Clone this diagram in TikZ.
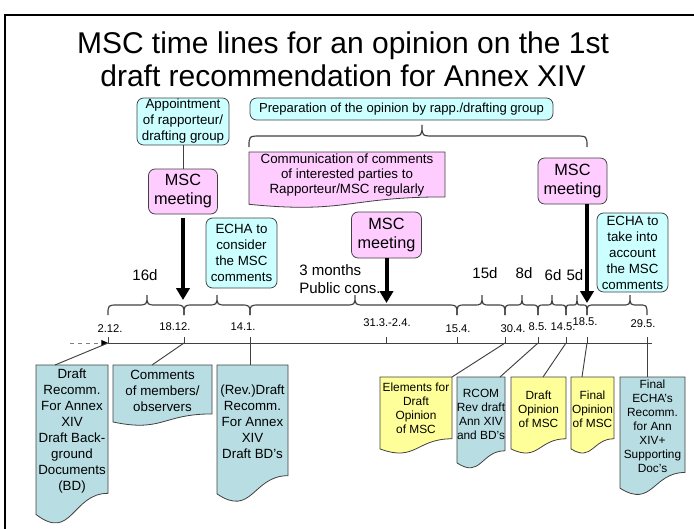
\documentclass[tikz,border=0pt]{standalone}
\usepackage{fontspec}
\setmainfont{Liberation Sans}
\usetikzlibrary{arrows.meta}
\definecolor{callcyan}{RGB}{204,255,255}
\definecolor{callpink}{RGB}{255,204,255}
\definecolor{docyellow}{RGB}{255,255,153}
\definecolor{docblue}{RGB}{184,222,228}
\definecolor{edgegrey}{RGB}{64,64,64}
\tikzset{
  callout/.style={draw=edgegrey, rounded corners=5pt, align=center, inner sep=0pt,
    line width=0.6pt, font=\fontsize{10}{12}\selectfont},
  cyanbox/.style={callout, fill=callcyan},
  mscbox/.style={callout, fill=callpink, font=\fontsize{12.2}{14.25}\selectfont},
  docstyle/.style={draw=edgegrey, line width=0.6pt},
  doctext/.style={align=center, inner sep=0pt, font=\fontsize{10}{12}\selectfont},
  smalldoc/.style={doctext, font=\fontsize{8.9}{10.5}\selectfont},
  link/.style={draw=edgegrey, line width=0.7pt},
  bigarrow/.style={line width=3pt, -{Triangle[length=9pt,width=10pt]}},
  bracestyle/.style={draw=edgegrey, line width=0.9pt},
  datelbl/.style={font=\fontsize{8.4}{10}\selectfont, inner sep=0pt},
  daylbl/.style={font=\fontsize{11.3}{13.5}\selectfont, inner sep=0pt, align=left},
  titlelbl/.style={font=\fontsize{22.5}{26}\selectfont, inner sep=0pt, anchor=base},
}
% document shape: x, y(top), width, height, fill
\newcommand\docshape[5]{%
  \draw[docstyle, fill=#5] (#1,#2) -- ({#1+#3},#2) -- ({#1+#3},{#2+0.802*#4})
    .. controls ({#1+0.5*#3},{#2+0.802*#4}) and ({#1+0.5*#3},{#2+1.107*#4}) ..
    (#1,{#2+0.934*#4}) -- cycle;}
% horizontal brace: x1, x2, xpeak, ybase, half height, radius
\newcommand\tlbrace[6]{%
  \draw[bracestyle] (#1,#4) .. controls (#1,{#4-#5}) .. ({#1+#6},{#4-#5})
    -- ({#3-#6},{#4-#5}) .. controls (#3,{#4-#5}) .. (#3,{#4-2*#5})
    .. controls (#3,{#4-#5}) .. ({#3+#6},{#4-#5})
    -- ({#2-#6},{#4-#5}) .. controls (#2,{#4-#5}) .. (#2,#4);}
\begin{document}
\begin{tikzpicture}[x=0.75pt, y=-0.75pt]
\useasboundingbox (0,0) rectangle (694,529);
% frame
\draw[line width=1.5pt] (5,529) -- (5,15) -- (694,15);
% title
\node[titlelbl] (title1) at (343,53) {MSC time lines for an opinion on the 1st};
\node[titlelbl] (title2) at (343,86.5) {draft recommendation for Annex XIV};

% upper callouts
\node[cyanbox, minimum width=69pt, minimum height=35.25pt] (appt) at (183,121.5)
  {Appointment\\of rapporteur/\\drafting group};
\node[cyanbox, minimum width=227.25pt, minimum height=16.5pt,
  font=\fontsize{9.8}{12}\selectfont] (prep) at (401.5,109)
  {Preparation of the opinion by rapp./drafting group};
\tlbrace{249}{587}{422}{147}{11}{12}
\docshape{249}{152}{196}{56}{callpink}
\node[doctext, font=\fontsize{10}{11.25}\selectfont] (comm) at (347,175)
  {Communication of comments\\of interested parties to\\Rapporteur/MSC regularly};

\node[mscbox, minimum width=51.75pt, minimum height=33.75pt] (mscL) at (183,191.5) {MSC\\meeting};
\node[mscbox, minimum width=52.5pt, minimum height=34.5pt] (mscM) at (386.5,235) {MSC\\meeting};
\node[mscbox, minimum width=51.75pt, minimum height=34.5pt] (mscR) at (572.5,181) {MSC\\meeting};
\node[cyanbox, minimum width=53.25pt, minimum height=52.5pt] (echaA) at (241.5,253)
  {ECHA to\\consider\\the MSC\\comments};
\node[cyanbox, minimum width=53.25pt, minimum height=59.25pt] (echaB) at (632.5,252.5)
  {ECHA to\\take into\\account\\the MSC\\comments};
\draw[link] (appt) -- (mscL);

% day labels
\node[daylbl] (d16) at (145,275) {16d};
\node[daylbl, anchor=west] (d3m) at (299,279) {3 months\\Public cons.};
\node[daylbl] (d15) at (485,273) {15d};
\node[daylbl] (d8) at (524,273) {8d};
\node[daylbl] (d6) at (553,275) {6d};
\node[daylbl] (d5) at (575,275) {5d};

% braces
\tlbrace{108}{184}{147}{315}{10}{10}
\tlbrace{184}{250}{217}{315}{10}{10}
\tlbrace{250}{457}{355}{315}{10}{10}
\tlbrace{457}{505}{482}{315}{10}{9}
\tlbrace{505}{538}{522}{315}{10}{7}
\tlbrace{538}{566}{552}{315}{10}{6}
\tlbrace{566}{587}{577}{315}{10}{4.5}
\tlbrace{587}{647}{630}{315}{10}{8}

% time line
\coordinate (t1) at (108,343);
\coordinate (t2) at (184,343);
\coordinate (t3) at (250,343);
\coordinate (t4) at (386,343);
\coordinate (t5) at (457,343);
\coordinate (t6) at (505,343);
\coordinate (t7) at (538,343);
\coordinate (t8) at (566,343);
\coordinate (t9) at (587,343);
\coordinate (t10) at (647,343);
\coordinate (tend) at (652,343);
\coordinate (dstart) at (70,343);
\draw[link] (t1) -- (tend);
\draw[draw=gray, dashed, line width=0.7pt, -{Triangle[length=5pt,width=4.5pt,color=black]}] (dstart) -- (t1);
\foreach \t in {t1,t2,t3,t4,t5,t6,t7,t8,t9,t10} \draw[link] (\t) -- ++(0,-6);

% dates
\node[datelbl] (l1) at (110,329) {2.12.};
\node[datelbl] (l2) at (175,327) {18.12.};
\node[datelbl] (l3) at (243,327) {14.1.};
\node[datelbl] (l4) at (387,323) {31.3.-2.4.};
\node[datelbl] (l5) at (458,329) {15.4.};
\node[datelbl] (l6) at (513,329) {30.4.};
\node[datelbl] (l7) at (538,327) {8.5.};
\node[datelbl] (l8) at (563,327) {14.5.};
\node[datelbl] (l9) at (585,322) {18.5.};
\node[datelbl] (l10) at (643,324) {29.5.};

% thick arrows
\coordinate (a1) at (183,300);
\coordinate (a2) at (386.5,303);
\coordinate (a3) at (587,303);
\draw[bigarrow, shorten <=3pt] (mscL) -- (a1);
\draw[bigarrow] (mscM) -- (a2);
\draw[bigarrow] (mscR.south -| a3) -- (a3);

% documents
\docshape{36}{365}{72}{160}{docblue}
\node[doctext] (doc1) at (72,431) {Draft\\Recomm.\\For Annex\\XIV\\Draft Back-\\ground\\Documents\\(BD)};
\docshape{113}{365}{99}{61}{docblue}
\node[doctext] (doc2) at (162.5,391) {Comments\\of members/\\observers};
\docshape{217}{365}{71}{138}{docblue}
\node[doctext] (doc3) at (252.5,422) {(Rev.)Draft\\Recomm.\\For Annex\\XIV\\Draft BD’s};
\docshape{380}{377}{72}{77}{docyellow}
\node[smalldoc] (doc4) at (416,408) {Elements for\\Draft\\Opinion\\of MSC};
\docshape{457}{377}{48}{92}{docblue}
\node[smalldoc] (doc5) at (481,414.5) {RCOM\\Rev draft\\Ann XIV\\and BD’s};
\docshape{511}{377}{55}{77}{docyellow}
\node[smalldoc] (doc6) at (538.5,409) {Draft\\Opinion\\of MSC};
\docshape{571}{377}{43}{77}{docyellow}
\node[smalldoc] (doc7) at (592.5,409) {Final\\Opinion\\of MSC};
\docshape{620}{377}{65}{119}{docblue}
\node[smalldoc] (doc8) at (652.5,426) {Final\\ECHA’s\\Recomm.\\for Ann\\XIV+\\Supporting\\Doc’s};

% document connectors
\coordinate (c1) at (55,365);
\coordinate (c2) at (152,365);
\coordinate (c3) at (250,365);
\coordinate (c4) at (452,377);
\coordinate (c5) at (500,377);
\coordinate (c6) at (543,377);
\coordinate (c7) at (582,377);
\coordinate (c8) at (647,377);
\draw[link] (c1) -- (t1);
\draw[link] (c2) -- (t2);
\draw[link] (c3) -- (t3);
\draw[link] (c4) -- (t6);
\draw[link] (c5) -- (t7);
\draw[link] (c6) -- (t8);
\draw[link] (c7) -- (t9);
\draw[link] (c8) -- (t10);
\end{tikzpicture}
\end{document}
